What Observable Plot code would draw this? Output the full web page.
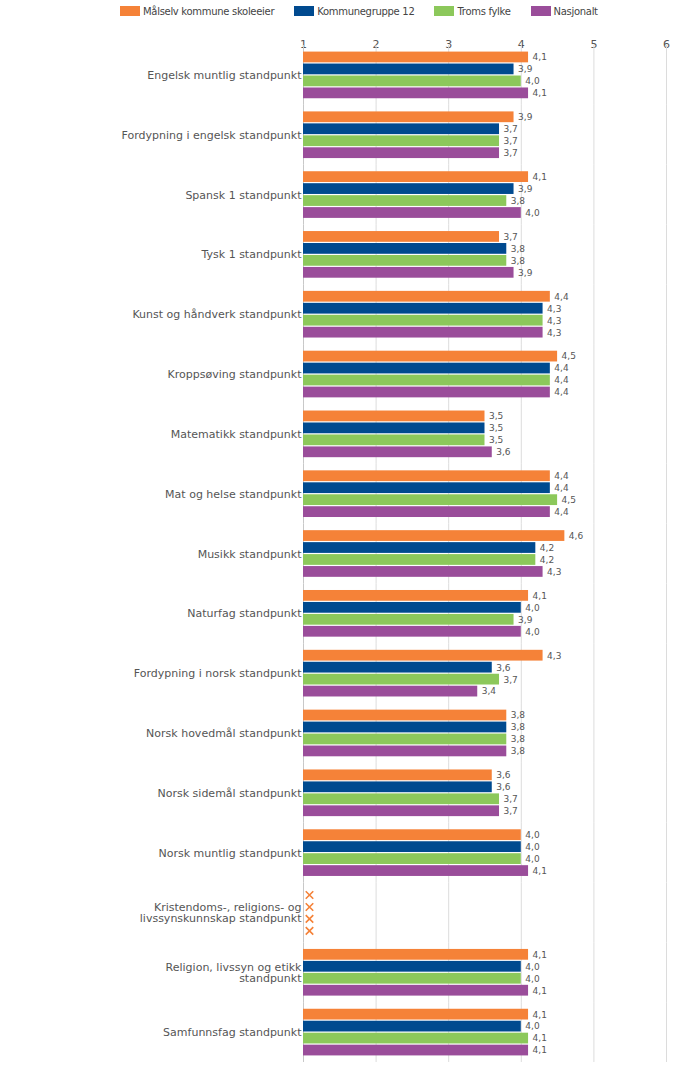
<!DOCTYPE html>
<html><head><meta charset="utf-8">
<script src="https://cdn.jsdelivr.net/npm/d3@7"></script>
<script src="https://cdn.jsdelivr.net/npm/@observablehq/plot@0.6"></script>
<style>
body{margin:0;background:#fff;font-family:"DejaVu Sans",sans-serif;}
#legend{display:flex;height:22px;align-items:center;padding-left:120px;font-size:10px;letter-spacing:-0.3px;color:#444;box-sizing:border-box}
.item{display:flex;align-items:center;margin-right:20px}
.sw{width:20px;height:10px;margin-right:3px}
#chart svg{display:block}
</style></head><body>
<div id="legend"></div><div id="chart"></div>
<script>
const subjects = [
  "Engelsk muntlig standpunkt",
  "Fordypning i engelsk standpunkt",
  "Spansk 1 standpunkt",
  "Tysk 1 standpunkt",
  "Kunst og håndverk standpunkt",
  "Kroppsøving standpunkt",
  "Matematikk standpunkt",
  "Mat og helse standpunkt",
  "Musikk standpunkt",
  "Naturfag standpunkt",
  "Fordypning i norsk standpunkt",
  "Norsk hovedmål standpunkt",
  "Norsk sidemål standpunkt",
  "Norsk muntlig standpunkt",
  "Kristendoms-, religions- og livssynskunnskap standpunkt",
  "Religion, livssyn og etikk standpunkt",
  "Samfunnsfag standpunkt"
];
const subjectLabels = [
  "Engelsk muntlig standpunkt",
  "Fordypning i engelsk standpunkt",
  "Spansk 1 standpunkt",
  "Tysk 1 standpunkt",
  "Kunst og håndverk standpunkt",
  "Kroppsøving standpunkt",
  "Matematikk standpunkt",
  "Mat og helse standpunkt",
  "Musikk standpunkt",
  "Naturfag standpunkt",
  "Fordypning i norsk standpunkt",
  "Norsk hovedmål standpunkt",
  "Norsk sidemål standpunkt",
  "Norsk muntlig standpunkt",
  "Kristendoms-, religions- og\nlivssynskunnskap standpunkt",
  "Religion, livssyn og etikk\nstandpunkt",
  "Samfunnsfag standpunkt"
];
const series = ["Målselv kommune skoleeier", "Kommunegruppe 12", "Troms fylke", "Nasjonalt"];
const colors = ["#f58238", "#004a8f", "#8cc85b", "#9a4d9a"];
const malselv       = [4.1, 3.9, 4.1, 3.7, 4.4, 4.5, 3.5, 4.4, 4.6, 4.1, 4.3, 3.8, 3.6, 4.0, null, 4.1, 4.1];
const kommunegruppe = [3.9, 3.7, 3.9, 3.8, 4.3, 4.4, 3.5, 4.4, 4.2, 4.0, 3.6, 3.8, 3.6, 4.0, null, 4.0, 4.0];
const troms         = [4.0, 3.7, 3.8, 3.8, 4.3, 4.4, 3.5, 4.5, 4.2, 3.9, 3.7, 3.8, 3.7, 4.0, null, 4.0, 4.1];
const nasjonalt     = [4.1, 3.7, 4.0, 3.9, 4.3, 4.4, 3.6, 4.4, 4.3, 4.0, 3.4, 3.8, 3.7, 4.1, null, 4.1, 4.1];
const xTicks = [1, 2, 3, 4, 5, 6];

const seriesValues = [malselv, kommunegruppe, troms, nasjonalt];
const rows = [];
subjects.forEach((subject, i) => {
  series.forEach((s, j) => rows.push({subject, series: s, value: seriesValues[j][i]}));
});
const present = rows.filter(d => d.value != null);
const missing = rows.filter(d => d.value == null);
const labelOf = new Map(subjects.map((s, i) => [s, subjectLabels[i]]));

// legend
const legend = document.getElementById("legend");
series.forEach((s, i) => {
  const it = document.createElement("div"); it.className = "item";
  const sw = document.createElement("div"); sw.className = "sw"; sw.style.background = colors[i];
  const tx = document.createElement("span"); tx.textContent = s;
  it.append(sw, tx); legend.append(it);
});

const chart = Plot.plot({
  width: 694,
  height: 1044,
  marginTop: 23,
  marginBottom: 4,
  marginLeft: 303,
  marginRight: 28,
  style: {fontFamily: "DejaVu Sans", fontSize: "11px", color: "#555", background: "#fff"},
  x: {domain: [xTicks[0], xTicks[xTicks.length - 1]], axis: "top", ticks: xTicks, tickFormat: d => String(d), tickSize: 0, tickPadding: -2, label: null},
  y: {domain: series, axis: null, paddingInner: 0.1, paddingOuter: 0.55, round: false},
  fy: {domain: subjects, padding: 0, round: false, label: null, tickSize: 0, tickPadding: 2, tickFormat: d => labelOf.get(d)},
  color: {domain: series, range: colors},
  marks: [
    Plot.ruleX(xTicks.slice(1), {stroke: "#dcdcdc"}),
    Plot.ruleX(xTicks.slice(0, 1), {stroke: "#c8c8c8"}),
    Plot.barX(present, {fy: "subject", y: "series", x1: xTicks[0], x2: "value", fill: "series"}),
    Plot.text(present, {fy: "subject", y: "series", x: "value", text: d => d.value.toFixed(1).replace(".", ","), textAnchor: "start", dx: 4, fontSize: 9, fill: "#555"}),
    Plot.dot(missing, {fy: "subject", y: "series", frameAnchor: "left", dx: 6, symbol: "times", r: 3.5, stroke: colors[0], strokeWidth: 1.6})
  ]
});
document.getElementById("chart").append(chart);
</script>
</body></html>
